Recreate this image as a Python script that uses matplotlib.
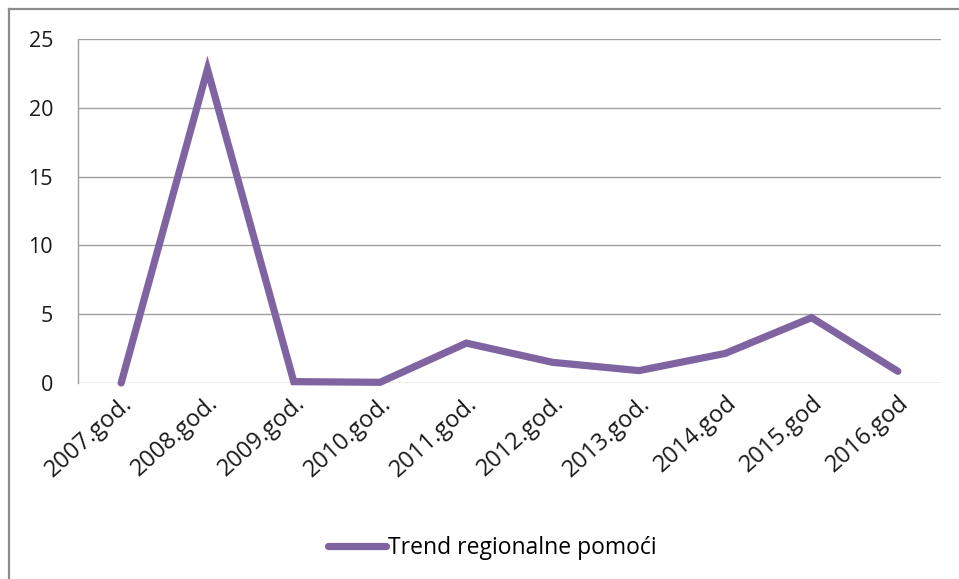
import matplotlib.pyplot as plt
from matplotlib.lines import Line2D

# Data
years = ["2007.god.", "2008.god.", "2009.god.", "2010.god.", "2011.god.",
         "2012.god.", "2013.god.", "2014.god", "2015.god", "2016.god"]
values = [0.0, 22.8, 0.1, 0.05, 2.9, 1.5, 0.9, 2.15, 4.75, 0.85]
series_name = "Trend regionalne pomoći"
y_ticks = [0, 5, 10, 15, 20, 25]

plt.rcParams['font.family'] = ['Open Sans', 'DejaVu Sans']

W, H = 959, 579
fig = plt.figure(figsize=(W / 100, H / 100), dpi=100)

# plot area in pixel coordinates of the reference
left, right, top, bottom = 78, 941, 39, 383
ax = fig.add_axes([left / W, 1 - bottom / H, (right - left) / W, (bottom - top) / H])

x = list(range(len(years)))
ax.plot(x, values, color='#8064A2', linewidth=5.2, solid_joinstyle='miter',
        solid_capstyle='round', label=series_name, clip_on=False)

ax.set_xlim(-0.5, len(years) - 0.5)
ax.set_ylim(0, 25)
ax.set_yticks(y_ticks)
ax.set_xticks(x)
ax.set_xticklabels(years, rotation=42, ha='right', rotation_mode='anchor')
ax.tick_params(axis='both', length=0, colors='#1a1a1a')
ax.tick_params(axis='y', pad=18, labelsize=15.5)
ax.tick_params(axis='x', pad=6, labelsize=17)

ax.grid(axis='y', color='#A0A0A0', linewidth=1)
ax.set_axisbelow(True)
for side in ['top', 'right', 'bottom']:
    ax.spines[side].set_visible(False)
ax.spines['left'].set_color('#A0A0A0')
ax.spines['left'].set_linewidth(1)

# legend below the chart
handle = Line2D([0], [0], color='#8064A2', linewidth=5.2, solid_capstyle='round')
fig.legend([handle], [series_name], loc='center',
           bbox_to_anchor=(0.5 + 13 / W, 1 - 548 / H),
           frameon=False, fontsize=16.5, handlelength=2.5, handletextpad=0.1)

# outer frame (top and left edges visible)
fig.add_artist(Line2D([9 / W, 9 / W], [0, 1 - 9 / H], transform=fig.transFigure,
                      color='#8C8C8C', linewidth=1.6))
fig.add_artist(Line2D([9 / W, 1], [1 - 9 / H, 1 - 9 / H], transform=fig.transFigure,
                      color='#8C8C8C', linewidth=1.6))

fig.savefig("out.png", dpi=100)
